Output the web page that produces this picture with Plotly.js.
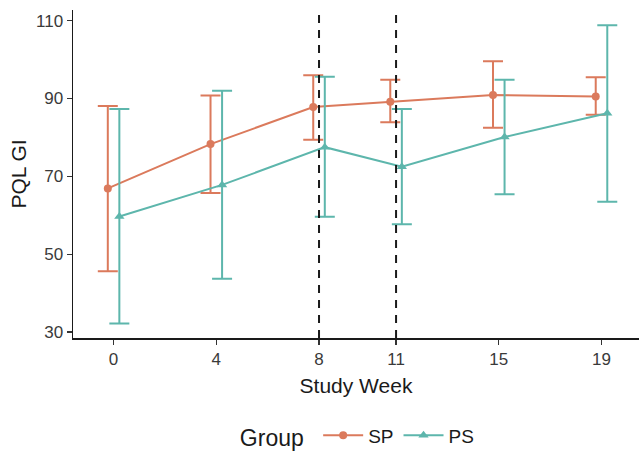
<!DOCTYPE html>
<html>
<head>
<meta charset="utf-8">
<script src="https://cdn.plot.ly/plotly-3.0.1.min.js"></script>
<style>html,body{margin:0;padding:0;background:#fff;}#chart{width:639px;height:451px;}</style>
</head>
<body>
<div id="chart"></div>
<script>
// Data
const weeks = [0, 4, 8, 11, 15, 19];
const spMean  = [66.9, 78.3, 87.8, 89.2, 90.9, 90.5];
const spUpper = [88.1, 90.8, 96.0, 94.8, 99.6, 95.5];
const spLower = [45.6, 65.7, 79.4, 83.9, 82.5, 85.8];
const psMean  = [59.7, 67.8, 77.5, 72.5, 80.1, 86.2];
const psUpper = [87.3, 92.0, 95.6, 87.3, 94.8, 108.8];
const psLower = [32.2, 43.7, 59.6, 57.7, 65.4, 63.5];
const vlines = [8, 11];
const groupNames = ['SP', 'PS'];

const dodge = 0.225;
const spColor = '#DB7A5C';
const psColor = '#5DB6AC';

function mk(name, mean, up, lo, off, color, symbol, msize) {
  return {
    type: 'scatter', mode: 'lines+markers', name: name,
    x: weeks.map(w => w + off), y: mean,
    line: {color: color, width: 2},
    marker: {color: color, symbol: symbol, size: msize},
    error_y: {type: 'data', symmetric: false,
      array: up.map((u, i) => u - mean[i]),
      arrayminus: lo.map((l, i) => mean[i] - l),
      color: color, thickness: 2, width: 10},
    hoverinfo: 'x+y'
  };
}

const traces = [
  mk(groupNames[0], spMean, spUpper, spLower, -dodge, spColor, 'circle', 8),
  mk(groupNames[1], psMean, psUpper, psLower, dodge, psColor, 'triangle-up', 9)
];

const shapes = vlines.map(v => ({
  type: 'line', xref: 'x', yref: 'paper', x0: v, x1: v, y0: 0, y1: 1,
  line: {color: '#1a1a1a', width: 2, dash: '8px,7px'}
}));

const layout = {
  width: 639, height: 451,
  margin: {l: 73, r: 0, t: 10, b: 112.7, autoexpand: false},
  paper_bgcolor: '#fff', plot_bgcolor: '#fff',
  font: {family: 'Liberation Sans, Arial, sans-serif', color: '#1a1a1a'},
  showlegend: true,
  xaxis: {
    range: [-1.58, 20.46], tickvals: weeks, ticktext: weeks.map(String),
    automargin: false,
    showgrid: false, zeroline: false, showline: true, linecolor: '#1a1a1a', linewidth: 1.5,
    ticks: 'outside', ticklen: 5, tickcolor: '#333', tickwidth: 1.3,
    tickfont: {size: 17, color: '#3a3a3a'},
    title: {text: 'Study Week', font: {size: 21, color: '#1a1a1a'}, standoff: 10}
  },
  yaxis: {
    range: [28.46, 112.75], tickvals: [30, 50, 70, 90, 110],
    automargin: false,
    showgrid: false, zeroline: false, showline: true, linecolor: '#1a1a1a', linewidth: 1.5,
    ticks: 'outside', ticklen: 5, tickcolor: '#333', tickwidth: 1.3,
    tickfont: {size: 17, color: '#3a3a3a'},
    title: {text: 'PQL GI', font: {size: 21, color: '#1a1a1a'}, standoff: 3}
  },
  legend: {
    orientation: 'h', x: 0.505, xanchor: 'center', y: -0.30, yanchor: 'middle',
    title: {text: 'Group ', font: {size: 23, color: '#1a1a1a'}, side: 'left'},
    font: {size: 19, color: '#1a1a1a'}, itemwidth: 40
  },
  shapes: shapes
};

Plotly.newPlot('chart', traces, layout, {displayModeBar: false, staticPlot: true});
</script>
</body>
</html>
